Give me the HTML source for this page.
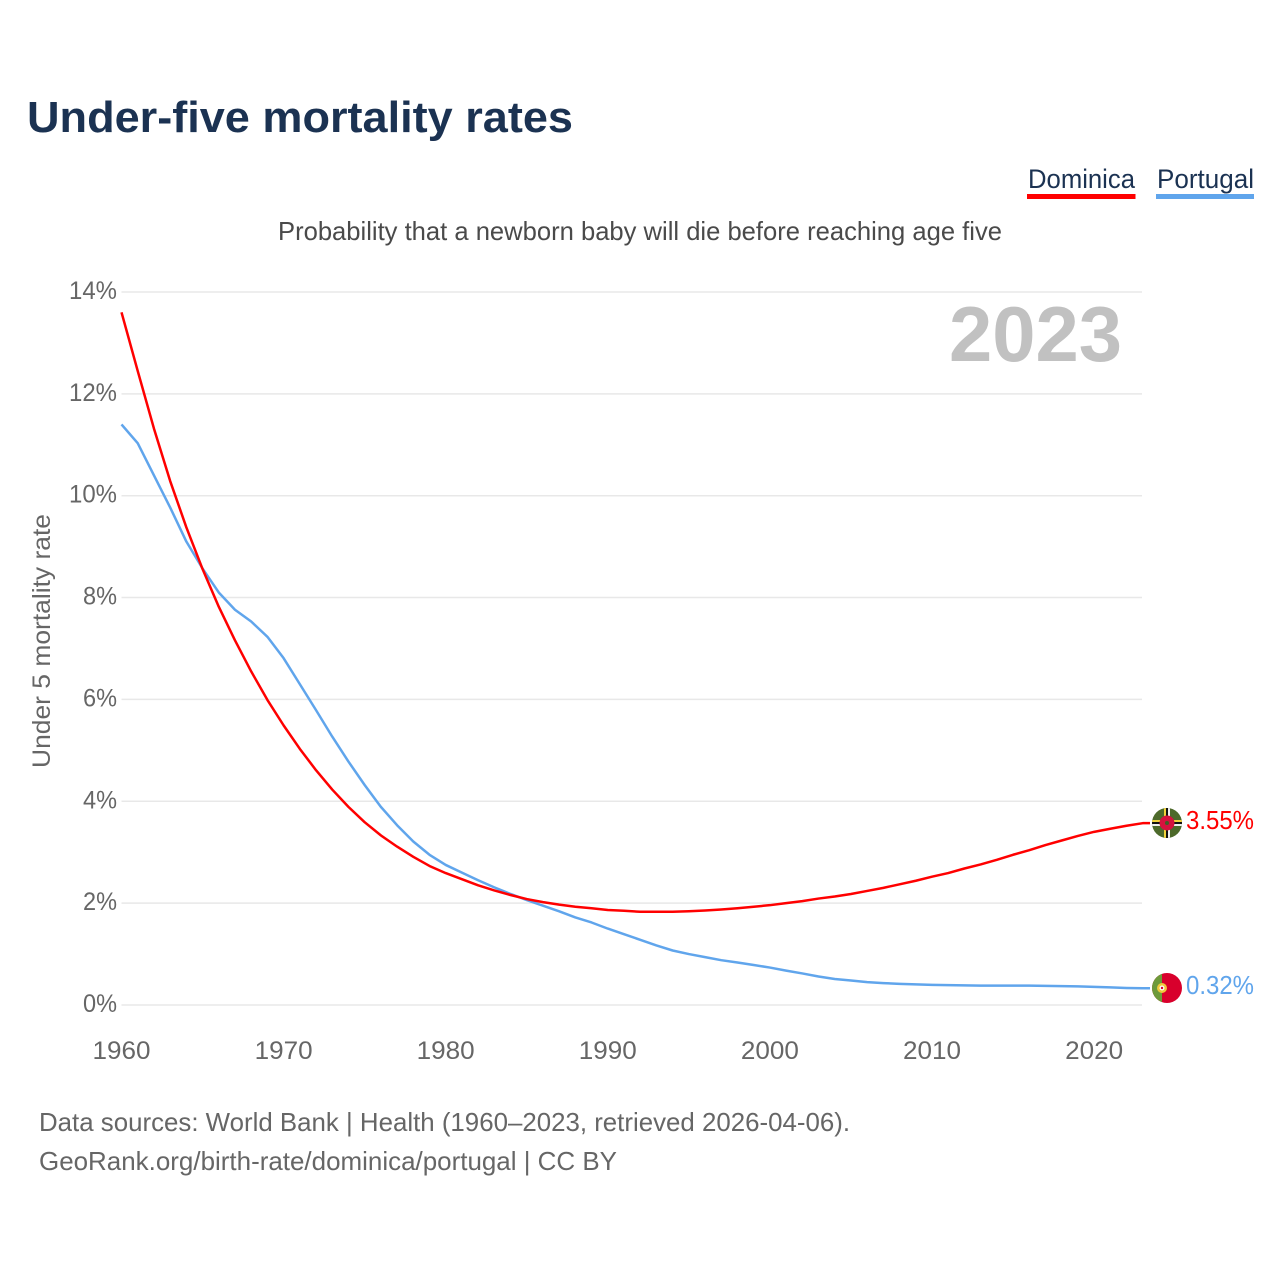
<!DOCTYPE html>
<html lang="en">
<head>
<meta charset="utf-8">
<title>Under-five mortality rates</title>
<style>
html,body{margin:0;padding:0;background:#fff;width:1280px;height:1280px;overflow:hidden}
svg{display:block}
text{font-family:"Liberation Sans",sans-serif}
</style>
</head>
<body>
<svg id="chart" xmlns="http://www.w3.org/2000/svg" width="1280" height="1280" viewBox="0 0 1280 1280">
  <rect width="1280" height="1280" fill="#fff"/>
  <text x="27" y="132" font-size="44" font-weight="700" fill="#1b3252" textLength="546" lengthAdjust="spacingAndGlyphs">Under-five mortality rates</text>
  <g>
    <text x="1028" y="188" font-size="27" fill="#1b3252" textLength="107" lengthAdjust="spacingAndGlyphs">Dominica</text>
    <rect x="1027" y="194" width="108.500" height="5" fill="#ff0000"/>
  </g>
  <g>
    <text x="1157" y="188" font-size="27" fill="#1b3252" textLength="97" lengthAdjust="spacingAndGlyphs">Portugal</text>
    <rect x="1156" y="194" width="98" height="5" fill="#60a5ec"/>
  </g>
  <text x="278" y="240" font-size="26" fill="#4a4a4a" textLength="724" lengthAdjust="spacingAndGlyphs">Probability that a newborn baby will die before reaching age five</text>
  <g id="grid"></g>
  <g id="yticks"></g>
  <g id="xticks"></g>
  <text transform="translate(50,768) rotate(-90)" font-size="25" fill="#666" textLength="254" lengthAdjust="spacingAndGlyphs">Under 5 mortality rate</text>
  <text x="949" y="361" font-size="78" font-weight="700" fill="#c1c1c1" textLength="173" lengthAdjust="spacingAndGlyphs">2023</text>
  <g id="series"></g>
  <defs>
    <clipPath id="clip-dm"><circle cx="1167" cy="823" r="15"/></clipPath>
    <clipPath id="clip-pt"><circle cx="1167" cy="988" r="15"/></clipPath>
  </defs>
  <g clip-path="url(#clip-dm)">
    <rect x="1152" y="808" width="30" height="30" fill="#4d6a2b"/>
    <rect x="1164" y="808" width="2" height="30" fill="#f2d33b"/>
    <rect x="1166" y="808" width="2" height="30" fill="#111"/>
    <rect x="1168" y="808" width="2" height="30" fill="#f0f0f0"/>
    <rect x="1152" y="820" width="30" height="2" fill="#f2d33b"/>
    <rect x="1152" y="822" width="30" height="2" fill="#111"/>
    <rect x="1152" y="824" width="30" height="2" fill="#f0f0f0"/>
    <circle cx="1167" cy="823" r="7.500" fill="#d6123e"/>
    <circle cx="1167" cy="823" r="2" fill="#3f5f25"/>
  </g>
  <g clip-path="url(#clip-pt)">
    <rect x="1152" y="973" width="30" height="30" fill="#d8002c"/>
    <rect x="1152" y="973" width="10" height="30" fill="#6d9a3a"/>
    <circle cx="1162" cy="988" r="5" fill="#f0c93a"/>
    <circle cx="1162" cy="988" r="2.500" fill="#fff"/>
    <circle cx="1162" cy="988" r="1.200" fill="#d8002c"/>
  </g>
  <text x="1186" y="829" font-size="26" fill="#ff0000" textLength="68" lengthAdjust="spacingAndGlyphs">3.55%</text>
  <text x="1186" y="994" font-size="26" fill="#60a5ec" textLength="68" lengthAdjust="spacingAndGlyphs">0.32%</text>
  <text x="39" y="1131" font-size="26" fill="#666" textLength="811" lengthAdjust="spacingAndGlyphs">Data sources: World Bank | Health (1960–2023, retrieved 2026-04-06).</text>
  <text x="39" y="1170" font-size="26" fill="#666" textLength="578" lengthAdjust="spacingAndGlyphs">GeoRank.org/birth-rate/dominica/portugal | CC BY</text>
</svg>
<script>
const years = [1960,1961,1962,1963,1964,1965,1966,1967,1968,1969,1970,1971,1972,1973,1974,1975,1976,1977,1978,1979,1980,1981,1982,1983,1984,1985,1986,1987,1988,1989,1990,1991,1992,1993,1994,1995,1996,1997,1998,1999,2000,2001,2002,2003,2004,2005,2006,2007,2008,2009,2010,2011,2012,2013,2014,2015,2016,2017,2018,2019,2020,2021,2022,2023];
const dominica = [13.6,12.45,11.32,10.29,9.38,8.56,7.82,7.16,6.55,5.99,5.49,5.03,4.61,4.23,3.89,3.59,3.33,3.11,2.91,2.73,2.59,2.47,2.35,2.25,2.16,2.08,2.02,1.97,1.93,1.9,1.865,1.85,1.83,1.83,1.83,1.84,1.855,1.875,1.9,1.93,1.96,2.0,2.04,2.09,2.13,2.18,2.24,2.3,2.37,2.44,2.52,2.59,2.68,2.76,2.85,2.95,3.04,3.14,3.23,3.32,3.4,3.46,3.52,3.57];
const portugal = [11.4,11.03,10.4,9.77,9.1,8.57,8.1,7.76,7.53,7.23,6.81,6.3,5.79,5.27,4.78,4.32,3.89,3.53,3.21,2.95,2.75,2.6,2.45,2.31,2.18,2.06,1.95,1.84,1.72,1.62,1.5,1.39,1.28,1.17,1.07,1.0,0.94,0.88,0.835,0.785,0.735,0.675,0.62,0.56,0.51,0.48,0.45,0.43,0.415,0.405,0.395,0.39,0.385,0.38,0.38,0.38,0.38,0.375,0.37,0.365,0.355,0.345,0.335,0.33];
const yTickValues = [0,2,4,6,8,10,12,14];
const xTickValues = [1960,1970,1980,1990,2000,2010,2020];

const SVGNS = 'http://www.w3.org/2000/svg';
function xScale(year){ return 121.5 + (year - 1960) * 16.21; }
function yScale(value){ return 1005 - value * 50.93; }

const gridGroup = document.getElementById('grid');
const yGroup = document.getElementById('yticks');
const xGroup = document.getElementById('xticks');
const seriesGroup = document.getElementById('series');

yTickValues.forEach(function(v){
  const line = document.createElementNS(SVGNS, 'line');
  
  
  line.setAttribute('x1', xScale(1960));
  line.setAttribute('x2', 1142);
  line.setAttribute('y1', yScale(v));
  line.setAttribute('y2', yScale(v));
  line.setAttribute('stroke', '#e8e8e8');
  line.setAttribute('stroke-width', '1.5');
  gridGroup.appendChild(line);

  const label = document.createElementNS(SVGNS, 'text');
  
  
  label.setAttribute('x', 117);
  label.setAttribute('y', yScale(v) + 7);
  label.setAttribute('text-anchor', 'end');
  label.setAttribute('font-size', '25');
  label.setAttribute('fill', '#666');
  label.setAttribute('textLength', v >= 10 ? '48' : '34');
  label.setAttribute('lengthAdjust', 'spacingAndGlyphs');
  label.textContent = v + '%';
  yGroup.appendChild(label);
});

xTickValues.forEach(function(y){
  const label = document.createElementNS(SVGNS, 'text');
  
  
  label.setAttribute('x', xScale(y));
  label.setAttribute('y', 1059);
  label.setAttribute('text-anchor', 'middle');
  label.setAttribute('font-size', '25');
  label.setAttribute('fill', '#666');
  label.setAttribute('textLength', '58');
  label.setAttribute('lengthAdjust', 'spacingAndGlyphs');
  label.textContent = y;
  xGroup.appendChild(label);
});

function linePath(values){
  let d = values.map(function(v, i){
    return (i ? 'L' : 'M') + xScale(years[i]).toFixed(2) + ' ' + yScale(v).toFixed(2);
  }).join(' ');
  d += ' L1150 ' + yScale(values[values.length - 1]).toFixed(2);
  return d;
}

const portugalLine = document.createElementNS(SVGNS, 'path');


portugalLine.setAttribute('d', linePath(portugal));
portugalLine.setAttribute('fill', 'none');
portugalLine.setAttribute('stroke', '#60a5ec');
portugalLine.setAttribute('stroke-width', '2.5');
portugalLine.setAttribute('stroke-linejoin', 'round');
seriesGroup.appendChild(portugalLine);

const dominicaLine = document.createElementNS(SVGNS, 'path');


dominicaLine.setAttribute('d', linePath(dominica));
dominicaLine.setAttribute('fill', 'none');
dominicaLine.setAttribute('stroke', '#ff0000');
dominicaLine.setAttribute('stroke-width', '2.5');
dominicaLine.setAttribute('stroke-linejoin', 'round');
seriesGroup.appendChild(dominicaLine);
</script>
</body>
</html>
